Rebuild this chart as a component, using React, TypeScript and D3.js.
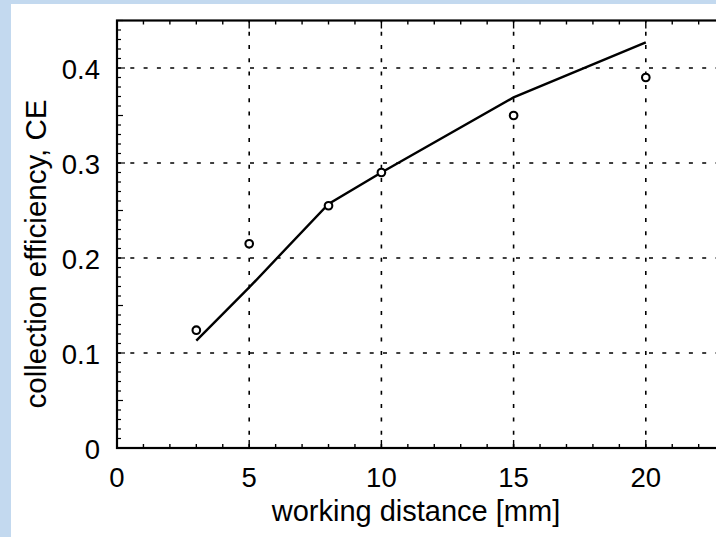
import React from "react";
import * as d3 from "d3";

const distances = [3, 5, 8, 10, 15, 20];
const modelCE = [0.113, 0.169, 0.257, 0.29, 0.369, 0.427];
const measuredCE = [0.124, 0.215, 0.255, 0.29, 0.35, 0.39];
const xTickValues = [0, 5, 10, 15, 20];
const yTickValues = [0, 0.1, 0.2, 0.3, 0.4];
const xGridValues = [5, 10, 15, 20];
const yGridValues = [0.1, 0.2, 0.3, 0.4];

const W = 716;
const H = 537;
const L = 117;
const R = 778;
const T = 20.5;
const B = 448;

export default function App() {
  const x = d3.scaleLinear().domain([0, 25]).range([L, R]);
  const y = d3.scaleLinear().domain([0, 0.45]).range([B, T]);
  const line = d3
    .line<number>()
    .x((_, i) => x(distances[i]))
    .y((d) => y(d));
  const xMinor = d3.range(0, 26, 1);
  const yMinor = d3.range(0, 46, 1).map((v) => v / 100);
  const font = "'Liberation Sans', Arial, sans-serif";
  return (
    <svg
      width={W}
      height={H}
      style={{ position: "fixed", left: 0, top: 0, background: "#c3d9ef" }}
    >
      <rect x={11} y={4} width={W - 11} height={H - 4} fill="#ffffff" />
      {/* grid */}
      {xGridValues.map((v) => (
        <line
          key={"gx" + v}
          x1={x(v)}
          x2={x(v)}
          y1={B}
          y2={T}
          stroke="#000"
          strokeWidth={1.6}
          strokeDasharray="4 9.3"
        />
      ))}
      {yGridValues.map((v) => (
        <line
          key={"gy" + v}
          x1={L}
          x2={R}
          y1={y(v)}
          y2={y(v)}
          stroke="#000"
          strokeWidth={1.6}
          strokeDasharray="4 9.3"
        />
      ))}
      {/* ticks */}
      {xMinor.map((v) => {
        const len = v % 5 === 0 ? 8 : 4;
        return (
          <g key={"tx" + v}>
            <line x1={x(v)} x2={x(v)} y1={B} y2={B - len} stroke="#000" strokeWidth={1.4} />
            <line x1={x(v)} x2={x(v)} y1={T} y2={T + len} stroke="#000" strokeWidth={1.4} />
          </g>
        );
      })}
      {yMinor.map((v, i) => {
        const len = i % 10 === 0 ? 8 : i % 5 === 0 ? 6 : 4;
        return (
          <line
            key={"ty" + i}
            x1={L}
            x2={L + len}
            y1={y(v)}
            y2={y(v)}
            stroke="#000"
            strokeWidth={1.2}
          />
        );
      })}
      {/* frame */}
      <rect x={L} y={T} width={R - L} height={B - T} fill="none" stroke="#000" strokeWidth={2.2} />
      {/* model line */}
      <path d={line(modelCE) || ""} fill="none" stroke="#000" strokeWidth={2.4} />
      {/* measured points */}
      {measuredCE.map((v, i) => (
        <circle
          key={"p" + i}
          cx={x(distances[i])}
          cy={y(v)}
          r={3.8}
          fill="#fff"
          stroke="#000"
          strokeWidth={2.1}
        />
      ))}
      {/* tick labels */}
      {xTickValues.map((v) => (
        <text
          key={"lx" + v}
          x={x(v)}
          y={487}
          textAnchor="middle"
          fontFamily={font}
          fontSize={27.5}
          fill="#000"
        >
          {v}
        </text>
      ))}
      {yTickValues.map((v) => (
        <text
          key={"ly" + v}
          x={100}
          y={y(v) + 11}
          textAnchor="end"
          fontFamily={font}
          fontSize={27.5}
          fill="#000"
        >
          {v === 0 ? "0" : d3.format(".1f")(v)}
        </text>
      ))}
      {/* axis titles */}
      <text
        x={416}
        y={521}
        textAnchor="middle"
        fontFamily={font}
        fontSize={29}
        fill="#000"
      >
        working distance [mm]
      </text>
      <text
        transform={`translate(46,254) rotate(-90)`}
        textAnchor="middle"
        fontFamily={font}
        fontSize={29.5}
        fill="#000"
      >
        collection efficiency, CE
      </text>
    </svg>
  );
}
